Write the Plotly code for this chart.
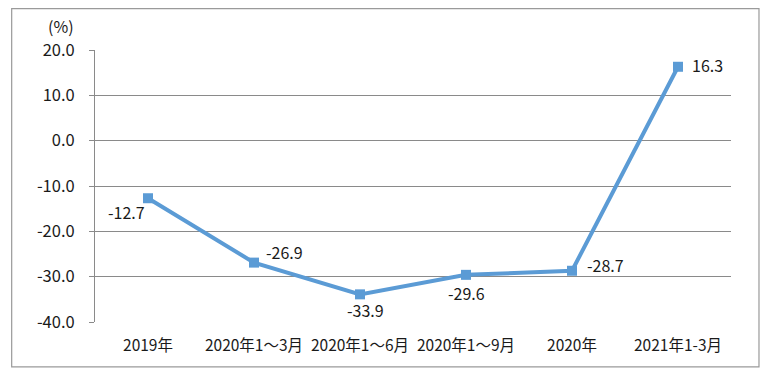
import plotly.graph_objects as go

categories = ["2019年", "2020年1～3月", "2020年1～6月", "2020年1～9月", "2020年", "2021年1-3月"]
values = [-12.7, -26.9, -33.9, -29.6, -28.7, 16.3]
y_ticks = [20, 10, 0, -10, -20, -30, -40]
y_tick_labels = ["20.0", "10.0", "0.0", "-10.0", "-20.0", "-30.0", "-40.0"]

label_offsets = [(-22, -14), (30, 11), (5, -16), (0, -18), (33, 6), (29, 2)]

font_family = "Noto Sans CJK SC, Noto Sans, sans-serif"
grid_color = "#8a8a8a"

fig = go.Figure()
fig.add_trace(go.Scatter(
    x=categories, y=values, mode="lines+markers",
    line=dict(color="#5b9bd5", width=4),
    marker=dict(symbol="square", size=10, color="#5b9bd5"),
    hoverinfo="skip", showlegend=False,
))

for c, v, (dx, dy) in zip(categories, values, label_offsets):
    fig.add_annotation(x=c, y=v, text=f"{v:.1f}", showarrow=False,
                       xshift=dx, yshift=dy,
                       font=dict(size=16, color="#1a1a1a", family=font_family))

fig.add_annotation(xref="paper", yref="paper", x=-0.03, y=1.09, text="(%)",
                   showarrow=False, xanchor="right", yanchor="middle",
                   font=dict(size=16, color="#1a1a1a", family=font_family))

fig.add_shape(type="rect", xref="paper", yref="paper",
              x0=-0.131, x1=1.044, y0=-0.165, y1=1.152,
              line=dict(color="#9a9a9a", width=1.2), layer="below")

fig.update_layout(
    width=756, height=361,
    margin=dict(l=87, r=33, t=42, b=47, autoexpand=False),
    paper_bgcolor="white", plot_bgcolor="white",
    font=dict(family=font_family, size=16, color="#1a1a1a"),
    xaxis=dict(type="category", range=[-0.5, 5.5], showgrid=False,
               showline=False, ticks="", tickfont=dict(size=15.5), zeroline=False,
               tickangle=0, automargin=False,
               ticklabelstandoff=12, fixedrange=True),
    yaxis=dict(range=[-40, 20], tickvals=y_ticks, ticktext=y_tick_labels,
               showgrid=True, gridcolor=grid_color, gridwidth=1,
               showline=True, linecolor=grid_color, linewidth=1,
               ticks="outside", ticklen=5, tickcolor=grid_color, automargin=False,
               zeroline=False, tickfont=dict(size=16.5), ticklabelstandoff=11),
)

fig.write_html("out.html")
